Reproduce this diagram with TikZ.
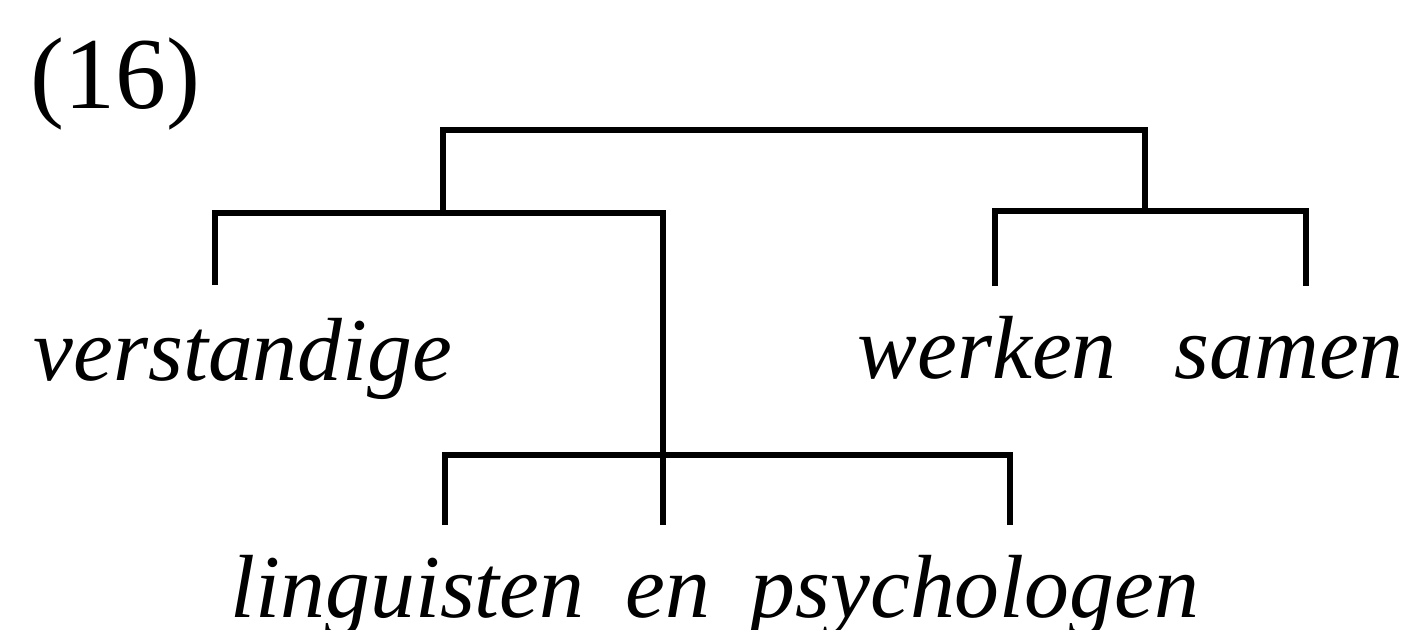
\documentclass[tikz,border=0pt]{standalone}
\usepackage{fontspec}
\setmainfont{Liberation Serif}
\usetikzlibrary{positioning}

\begin{document}
\begin{tikzpicture}[
    x=0.01cm, y=-0.01cm,
    branch/.style={line width=1.7pt, line cap=butt},
    word/.style={anchor=base west, inner sep=0pt, font=\fontsize{25.5}{30}\selectfont\itshape},
    exnum/.style={anchor=base west, inner sep=0pt, font=\fontsize{29}{34}\selectfont}
]
\useasboundingbox (0,0) rectangle (1414,629);

\node[exnum] (num) at (30,108) {(16)};

% words
\node[word] (verst) at (33,380) {verstandige};
\node[word] (werk) at (857,378) {werken};
\node[word] (sam) at (1174,378) {samen};
\node[word] (ling) at (230,617) {linguisten};
\node[word] (en) at (625,617) {en};
\node[word] (psy) at (750,617) {psychologen};

% branching points
\coordinate (s) at (794,130);
\coordinate (np) at (443,213);
\coordinate (vp) at (1145,211);
\coordinate (conj) at (663,455);
\coordinate (t-verst) at (215,285);
\coordinate (t-werk) at (995,286);
\coordinate (t-sam) at (1306,286);
\coordinate (t-ling) at (445,525);
\coordinate (t-en) at (663,525);
\coordinate (t-psy) at (1010,525);

\draw[branch] (np) |- (s) -| (vp);
\draw[branch] (t-verst) |- (np) -| (t-en);
\draw[branch] (t-werk) |- (vp) -| (t-sam);
\draw[branch] (t-ling) |- (conj) -| (t-psy);
\end{tikzpicture}
\end{document}
